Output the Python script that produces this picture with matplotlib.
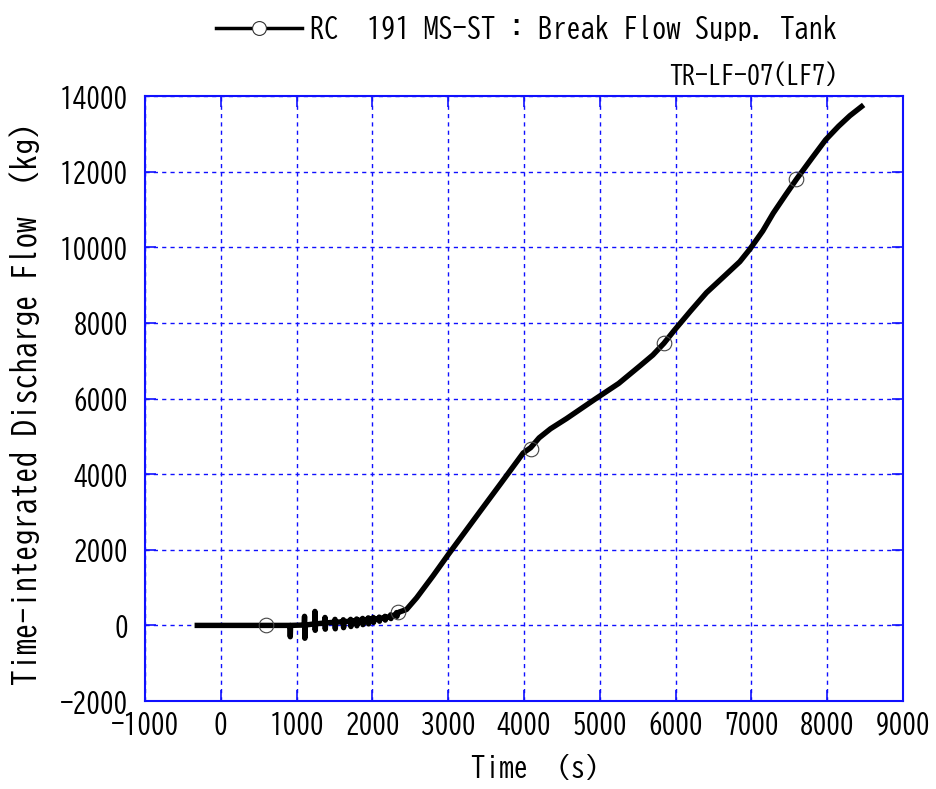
import matplotlib
matplotlib.use('Agg')
import matplotlib.pyplot as plt
from matplotlib.lines import Line2D

plt.rcParams['font.family'] = ['BIZ UDGothic', 'Noto Sans CJK JP', 'DejaVu Sans']
plt.rcParams['axes.unicode_minus'] = False

# Flat start before the break flow
start_t = [-310, 0, 300, 600, 880]
start_v = [0, 0, 0, 0, 0]

# Spikes in the early part (time, baseline, top, bottom)
spike_t = [913, 1105, 1242, 1375, 1507, 1616, 1713, 1792, 1871, 1946, 2012, 2090, 2166, 2241, 2320]
spike_base = [0, 10, 40, 65, 85, 95, 115, 130, 145, 160, 170, 180, 200, 240, 300]
spike_hi = [0, 240, 370, 210, 160, 150, 160, 170, 185, 200, 210, 220, 240, 280, 340]
spike_lo = [-300, -340, -130, -100, -90, -60, -30, -10, 20, 40, 80, 110, 140, 180, 240]

# Main rise
main_t = [2350, 2450, 2584, 2800, 3000, 3419, 3700, 3990, 4088, 4200, 4350, 4562,
          4935, 5250, 5528, 5700, 5846, 5982, 6200, 6408, 6650, 6848, 6980, 7150,
          7288, 7450, 7595, 7800, 7979, 8150, 8300, 8453]
main_v = [350, 420, 730, 1310, 1870, 3010, 3770, 4560, 4700, 4960, 5200, 5470,
          5980, 6400, 6860, 7150, 7460, 7800, 8320, 8800, 9250, 9620, 9950, 10430,
          10900, 11380, 11800, 12360, 12840, 13200, 13480, 13720]

# Circle markers on the curve
marker_t = [600, 2337, 4088, 5846, 7595]
marker_v = [0, 344, 4660, 7460, 11800]

# build the polyline
t = list(start_t)
v = list(start_v)
for tk, b, hi, lo in zip(spike_t, spike_base, spike_hi, spike_lo):
    t += [tk - 4, tk, tk + 4, tk + 8]
    v += [b, hi, lo, b]
t += main_t
v += main_v

fig = plt.figure(figsize=(9.36, 7.89), dpi=100)
ax = fig.add_axes([0.1549, 0.1115, 0.8098, 0.7668])

ax.plot(t, v, color='black', lw=3.9, solid_joinstyle='round', zorder=3)
ax.plot(marker_t, marker_v, ls='none', marker='o', ms=10.5, mfc='none',
        mec='#444444', mew=0.8, zorder=4)

ax.set_xlim(-1000, 9000)
ax.set_ylim(-2000, 14000)
ax.set_xticks(range(-1000, 9001, 1000))
ax.set_yticks(range(-2000, 14001, 2000))

ax.grid(True, color='#1010ff', ls=(0, (3, 3)), lw=1.0)
for s in ax.spines.values():
    s.set_color('#1010ff')
    s.set_linewidth(1.5)
ax.tick_params(direction='in', colors='#1010ff', labelcolor='black', length=8,
               width=1.2, top=True, right=True, labelsize=19.5)
ax.tick_params(axis='x', pad=7)
ax.tick_params(axis='y', pad=12)

ax.set_xlabel('Time  (s)', fontsize=20.5)
ax.xaxis.set_label_coords(0.515, -0.087)
ax.set_ylabel('Time-integrated Discharge Flow  (kg)', fontsize=22.5)
ax.yaxis.set_label_coords(-0.139, 0.491)

ax.text(0.914, 1.035, 'TR-LF-07(LF7)', transform=ax.transAxes, ha='right',
        va='center', fontsize=18.7)

handle = Line2D([], [], color='black', lw=2.5, marker='o', ms=10, mfc='white',
                mec='#333333', mew=0.8)
ax.legend([handle], ['RC  191 MS-ST : Break Flow Supp. Tank'], loc='center',
          bbox_to_anchor=(0.504, 1.113), frameon=False, fontsize=20.5,
          handlelength=3.0, handletextpad=0.3, numpoints=1, borderpad=0)

fig.savefig('out.png', dpi=100)
